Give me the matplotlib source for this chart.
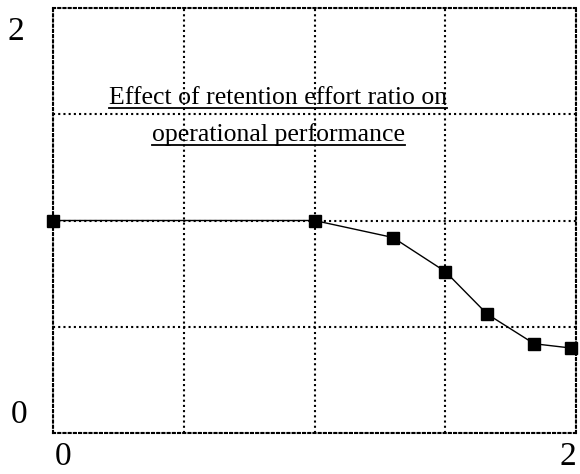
import matplotlib.pyplot as plt
import numpy as np

# Data
ratio = [0.0, 1.0, 1.30, 1.50, 1.66, 1.84, 1.98]
performance = [1.0, 1.0, 0.92, 0.76, 0.56, 0.42, 0.40]

x_ticks = [0, 2]
y_ticks = [0, 2]
title_lines = ['Effect of retention effort ratio on', 'operational performance']

plt.rcParams['font.family'] = ['Liberation Serif', 'DejaVu Serif']

fig = plt.figure(figsize=(5.8, 4.74), dpi=100)
ax = fig.add_axes([53/580, 41/474, 523/580, 425/474])

ax.plot(ratio, performance, color='black', lw=1.0, marker='s', ms=8.5,
        markerfacecolor='black', markeredgecolor='black', clip_on=False, zorder=3)

ax.set_xlim(0, 2)
ax.set_ylim(0, 2)
ax.set_xticks(np.arange(0, 2.01, 0.5))
ax.set_yticks(np.arange(0, 2.01, 0.5))
ax.tick_params(length=0, labelbottom=False, labelleft=False)
ax.grid(True, color='black', linestyle=(0, (1, 1.5)), linewidth=1.5)
for s in ax.spines.values():
    s.set_linestyle((0, (1, 1.5)))
    s.set_linewidth(1.5)

# tick labels, placed like the original (slightly inside)
for v in y_ticks:
    dy = -24 if v == 2 else 18
    dx = -37 if v == 2 else -34
    ax.annotate(str(v), (0, v), xytext=(dx, dy), textcoords='offset pixels',
                ha='center', va='center', fontsize=24, annotation_clip=False)
for v in x_ticks:
    dx = 10 if v == 0 else -8
    ax.annotate(str(v), (v, 0), xytext=(dx, -24), textcoords='offset pixels',
                ha='center', va='center', fontsize=24, annotation_clip=False)

# underlined two-line title
fig.canvas.draw()
r = fig.canvas.get_renderer()
ys = [0.774, 0.687]
inv = fig.transFigure.inverted()
for line, y in zip(title_lines, ys):
    t = ax.text(0.431, y, line, transform=ax.transAxes, ha='center', va='baseline',
                fontsize=18.5)
    bb = t.get_window_extent(renderer=r)
    (x0, _), (x1, _) = inv.transform([(bb.x0, bb.y0), (bb.x1, bb.y0)])
    base = ax.transAxes.transform((0, y))[1]
    uy = inv.transform((0, base - 4))[1]
    fig.add_artist(plt.Line2D([x0, x1], [uy, uy], color='black', lw=1.3,
                              transform=fig.transFigure))

fig.savefig('out.png', dpi=100)
